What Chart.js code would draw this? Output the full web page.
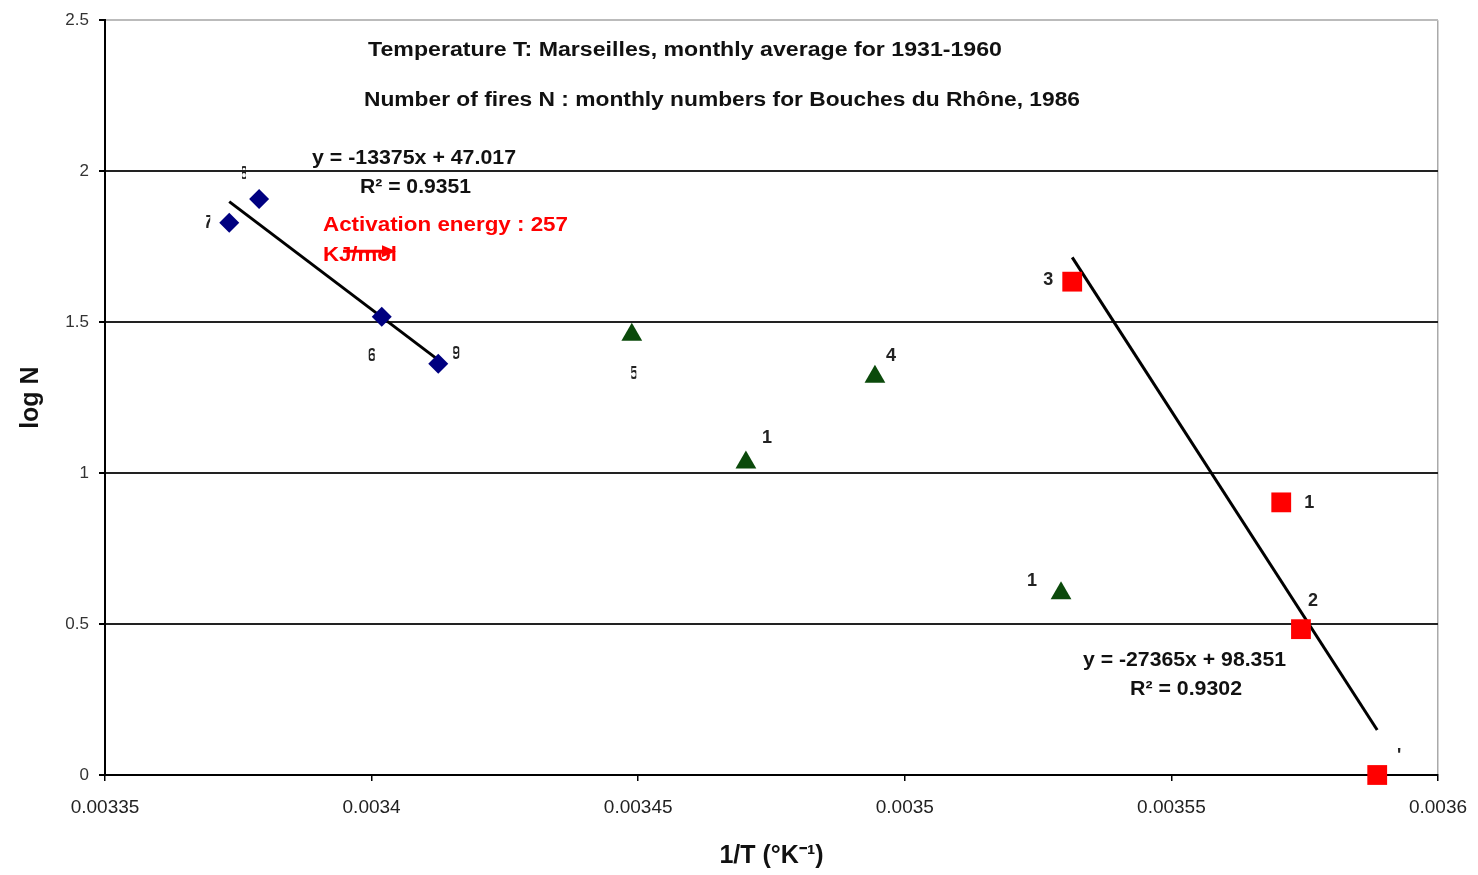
<!DOCTYPE html>
<html>
<head>
<meta charset="utf-8">
<script src="https://cdn.jsdelivr.net/npm/chart.js@4.4.1/dist/chart.umd.min.js"></script>
<style>
  body { margin: 0; background: #fff; }
  canvas { display: block; }
</style>
</head>
<body>
<canvas id="fireChart" width="1478" height="875"></canvas>
<script>
// 1/T values (per K) and log N
const summerX = [0.0033733, 0.0033789, 0.0034019, 0.0034125];
const summerY = [1.829, 1.908, 1.518, 1.362];
const summerLabels = ['7', '8', '6', '9'];

const midX = [0.0034488, 0.0034702, 0.0034944, 0.0035293];
const midY = [1.458, 1.035, 1.319, 0.602];
const midLabels = ['5', '1', '4', '1'];

const winterX = [0.0035314, 0.0035706, 0.0035743, 0.0035886];
const winterY = [1.634, 0.903, 0.483, 0.0];
const winterLabels = ['3', '1', '2', "'"];

// regression lines shown on the chart
const summerFit = { slope: -13375, intercept: 47.017 };
const winterFit = { slope: -27365, intercept: 98.351 };

const yTicks = [0, 0.5, 1, 1.5, 2, 2.5];

function toPoints(xs, ys) {
  return xs.map((x, i) => ({ x: x, y: ys[i] }));
}

function fitLine(xs, fit) {
  const x0 = Math.min(...xs), x1 = Math.max(...xs);
  return [
    { x: x0, y: fit.slope * x0 + fit.intercept },
    { x: x1, y: fit.slope * x1 + fit.intercept }
  ];
}

// draw text squeezed/stretched so it spans exactly `w` px starting at `x`
function fitText(ctx, text, x, y, w) {
  const m = ctx.measureText(text).width;
  ctx.save();
  ctx.translate(x, y);
  ctx.scale(w / m, 1);
  ctx.textAlign = 'left';
  ctx.fillText(text, 0, 0);
  ctx.restore();
}

// label offsets (px) from each point, and clip width for the cut-off ones
const labelPlacement = {
  0: [[-21, 0, 4], [-15, -25, 4], [-10, 39, 6], [18, -10, 6]],
  1: [[2, 39, 5], [21, -24, 0], [16, -21, 0], [-29, -12, 0]],
  2: [[-24, -2, 0], [28, 1, 0], [12, -28, 0], [22, -19, 0]]
};

const pointLabels = {
  id: 'pointLabels',
  afterDatasetsDraw(chart) {
    const ctx = chart.ctx;
    ctx.save();
    ctx.font = 'bold 18px "Liberation Sans", Arial, sans-serif';
    ctx.fillStyle = '#222';
    ctx.textAlign = 'center';
    ctx.textBaseline = 'middle';
    Object.keys(labelPlacement).forEach(di => {
      const ds = chart.data.datasets[di];
      const meta = chart.getDatasetMeta(di);
      meta.data.forEach((pt, i) => {
        const [dx, dy, clip] = labelPlacement[di][i];
        const tx = pt.x + dx, ty = pt.y + dy;
        ctx.save();
        if (clip) {
          ctx.beginPath();
          ctx.rect(tx - clip / 2, ty - 12, clip, 24);
          ctx.clip();
        }
        ctx.fillText(ds.pointText[i], tx, ty);
        ctx.restore();
      });
    });
    ctx.restore();
  }
};

const notes = {
  id: 'notes',
  afterDraw(chart) {
    const ctx = chart.ctx;
    const a = chart.chartArea;
    const L = a.left, T = a.top;
    ctx.save();
    ctx.textBaseline = 'middle';
    ctx.fillStyle = '#111';
    ctx.font = 'bold 20px "Liberation Sans", Arial, sans-serif';
    fitText(ctx, 'Temperature T: Marseilles, monthly average for 1931-1960', L + 263, T + 30, 634);
    fitText(ctx, 'Number of fires N : monthly numbers for Bouches du Rhône, 1986', L + 259, T + 80, 716);

    fitText(ctx, 'y = -13375x + 47.017', L + 207, T + 138, 204);
    fitText(ctx, 'R² = 0.9351', L + 255, T + 167, 111);
    fitText(ctx, 'y = -27365x + 98.351', L + 978, T + 640, 203);
    fitText(ctx, 'R² = 0.9302', L + 1025, T + 669, 112);

    ctx.fillStyle = '#ff0000';
    fitText(ctx, 'Activation energy : 257', L + 218, T + 205, 245);
    fitText(ctx, 'KJ/mol', L + 218, T + 235, 74);

    // red arrow over the units
    ctx.strokeStyle = '#ff0000';
    ctx.lineWidth = 3;
    ctx.beginPath();
    ctx.moveTo(L + 238, T + 231);
    ctx.lineTo(L + 280, T + 231);
    ctx.stroke();
    ctx.beginPath();
    ctx.moveTo(L + 291, T + 231);
    ctx.lineTo(L + 277, T + 225);
    ctx.lineTo(L + 277, T + 237);
    ctx.closePath();
    ctx.fill();
    ctx.restore();
  }
};

const ctx = document.getElementById('fireChart').getContext('2d');

new Chart(ctx, {
  type: 'scatter',
  data: {
    datasets: [
      {
        label: 'summer',
        data: toPoints(summerX, summerY),
        pointText: summerLabels,
        pointStyle: 'rectRot',
        pointRadius: 10,
        pointHoverRadius: 10,
        backgroundColor: '#000080',
        borderColor: '#000080',
        borderWidth: 0
      },
      {
        label: 'spring/autumn',
        data: toPoints(midX, midY),
        pointText: midLabels,
        pointStyle: 'triangle',
        pointRadius: 12,
        pointHoverRadius: 12,
        backgroundColor: '#0b4a0b',
        borderColor: '#0b4a0b',
        borderWidth: 0
      },
      {
        label: 'winter',
        data: toPoints(winterX, winterY),
        pointText: winterLabels,
        pointStyle: 'rect',
        pointRadius: 14,
        pointHoverRadius: 14,
        backgroundColor: '#ff0000',
        borderColor: '#ff0000',
        borderWidth: 0
      },
      {
        type: 'line',
        label: 'summer fit',
        data: fitLine(summerX, summerFit),
        borderColor: '#000',
        borderWidth: 3,
        pointRadius: 0,
        fill: false
      },
      {
        type: 'line',
        label: 'winter fit',
        data: fitLine(winterX, winterFit),
        borderColor: '#000',
        borderWidth: 3,
        pointRadius: 0,
        fill: false
      }
    ]
  },
  options: {
    responsive: false,
    animation: false,
    clip: false,
    layout: { padding: { top: 19, right: 40, left: 0, bottom: 0 } },
    plugins: {
      legend: { display: false },
      tooltip: { enabled: false }
    },
    scales: {
      x: {
        type: 'linear',
        min: 0.00335,
        max: 0.0036,
        afterFit(scale) {
          scale.height = 100;
          scale.paddingLeft = 0;
          scale.paddingRight = 0;
        },
        afterBuildTicks(scale) {
          const t = [];
          for (let i = 0; i <= 5; i++) t.push({ value: 0.00335 + i * 0.00005 });
          scale.ticks = t;
        },
        ticks: {
          color: '#222',
          padding: 15,
          maxRotation: 0,
          font: { family: '"Liberation Sans", Arial', size: 19 },
          callback: v => String(Number(v.toPrecision(6)))
        },
        grid: {
          drawOnChartArea: true,
          color: c => (c.index === 5 ? '#aaa' : 'rgba(0,0,0,0)'),
          tickColor: '#000',
          tickLength: 6,
          lineWidth: 1.5
        },
        border: { color: '#000', width: 2 },
        title: {
          display: true,
          text: '1/T (°K⁻¹)',
          color: '#111',
          font: { family: '"Liberation Sans", Arial', size: 25, weight: 'bold' },
          padding: { top: 0, bottom: 4 }
        }
      },
      y: {
        type: 'linear',
        min: 0,
        max: 2.5,
        afterFit(scale) { scale.width = 105; },
        afterBuildTicks(scale) {
          scale.ticks = yTicks.map(v => ({ value: v }));
        },
        ticks: {
          color: '#333',
          padding: 10,
          font: { family: '"Liberation Sans", Arial', size: 17 },
          callback: v => String(v)
        },
        grid: {
          color: c => (c.tick && c.tick.value === 2.5 ? '#bbb' : '#222'),
          tickColor: '#000',
          tickLength: 6,
          lineWidth: 2
        },
        border: { color: '#000', width: 2 },
        title: {
          display: true,
          text: 'log N',
          color: '#111',
          font: { family: '"Liberation Sans", Arial', size: 25, weight: 'bold' },
          padding: { top: 16, bottom: 0 }
        }
      }
    }
  },
  plugins: [pointLabels, notes]
});
</script>
</body>
</html>
